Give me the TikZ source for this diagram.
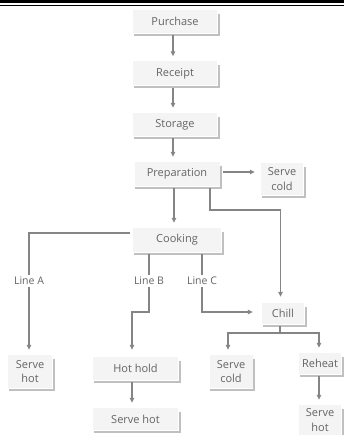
\documentclass[tikz,border=0pt]{standalone}
\usepackage{fontspec}
\setmainfont{Open Sans}
\usetikzlibrary{arrows.meta}
\definecolor{txt}{HTML}{646464}
\definecolor{ln}{HTML}{858585}
\definecolor{bx}{HTML}{F4F4F4}
\definecolor{sh}{HTML}{C0C0C0}
\begin{document}
\begin{tikzpicture}[x=1pt,y=-1pt,
  box/.style={fill=bx, draw=none, text=txt, inner sep=0pt, align=center,
    font=\fontsize{11}{14.5}\selectfont},
  lbl/.style={fill=white, text=txt, inner sep=1.5pt, font=\fontsize{10.5}{12}\selectfont},
  conn/.style={draw=ln, line width=1.3pt},
  arr/.style={conn, -{Triangle[length=5pt,width=4.5pt]}},
  shline/.style={draw=sh, line width=1.8pt}]
\useasboundingbox (0,0) rectangle (344,435);
% top rules
\fill[black] (0,0) rectangle (344,3.3);
\draw[line width=0.9pt] (0,5.3) -- (344,5.3);
% boxes
\node[box, minimum width=84pt, minimum height=23pt] (pur) at (175,21.5) {Purchase};
\node[box, minimum width=84pt, minimum height=24pt] (rec) at (175,73.5) {Receipt};
\node[box, minimum width=84pt, minimum height=23pt] (sto) at (175,124.5) {Storage};
\node[box, minimum width=85pt, minimum height=24pt] (pre) at (177,174) {Preparation};
\node[box, minimum width=42pt, minimum height=32pt] (sc1) at (282,179) {Serve\\cold};
\node[box, minimum width=88pt, minimum height=24pt] (coo) at (177,240) {Cooking};
\node[box, minimum width=42pt, minimum height=21pt] (chi) at (283,313.5) {Chill};
\node[box, minimum width=44pt, minimum height=33pt] (sh1) at (30,371.5) {Serve\\hot};
\node[box, minimum width=85pt, minimum height=23pt] (hh) at (135.5,368.5) {Hot hold};
\node[box, minimum width=85pt, minimum height=22pt] (sh2) at (135.5,419) {Serve hot};
\node[box, minimum width=43pt, minimum height=33pt] (sc2) at (231,371.5) {Serve\\cold};
\node[box, minimum width=42pt, minimum height=21pt] (reh) at (320,363.5) {Reheat};
\node[box, minimum width=42pt, minimum height=30pt] (sh3) at (320,420) {Serve\\hot};
% shadows
\foreach \n in {pur,rec,sto,pre,sc1,coo,chi,sh1,hh,sh2,sc2,reh,sh3}
  \draw[shline] ([xshift=1.5pt,yshift=-4pt]\n.north east) -- ([xshift=1.5pt,yshift=-1.5pt]\n.south east) -- ([xshift=1pt,yshift=-1.5pt]\n.south west);
% labels
\node[lbl] (la) at (29,281) {Line A};
\node[lbl] (lb) at (149,281) {Line B};
\node[lbl] (lc) at (202,281) {Line C};
% bend points
\coordinate (bB) at (149,312);
\coordinate (cj) at (280,333);
\coordinate (pj) at (210,210);
\coordinate (pe) at ([yshift=2pt]pre.east);
% connectors
\draw[arr, shorten <=2pt, shorten >=5pt] ([xshift=-2pt]pur.south) -- ([xshift=-2pt]rec.north);
\draw[arr, shorten <=2pt, shorten >=5pt] ([xshift=-2pt]rec.south) -- ([xshift=-2pt]sto.north);
\draw[arr, shorten <=2pt, shorten >=5pt] ([xshift=-2pt]sto.south) -- ([xshift=-4pt]pre.north);
\draw[arr, shorten <=3.5pt, shorten >=6pt] (pe) -- (pe -| sc1.west);
\draw[arr, shorten <=2pt, shorten >=5pt] ([xshift=-3pt]pre.south) -- ([xshift=-3pt]coo.north);
\draw[arr, shorten <=2pt, shorten >=6pt] ([xshift=33pt]pre.south) -- (pj) -| ([xshift=-2.5pt]chi.north);
\draw[conn, shorten <=3pt] ([yshift=7pt]coo.west) -| (la.north);
\draw[arr, shorten >=5pt] (la.south) -- ([xshift=-1pt]sh1.north);
\draw[conn, shorten <=2pt] ([xshift=-28pt]coo.south) -- (lb.north);
\draw[arr, shorten >=7pt] (lb.south) -- (bB) -| ([xshift=-3.5pt]hh.north);
\draw[conn, shorten <=2pt] ([xshift=25pt]coo.south) -- (lc.north);
\draw[arr, shorten >=9pt] (lc.south) |- ([yshift=1.5pt]chi.west);
\draw[conn, shorten <=2pt] ([xshift=-3pt]chi.south) -- (cj);
\draw[arr, shorten >=5pt] (cj) -| ([xshift=-3pt]sc2.north);
\draw[arr, shorten >=5pt] (cj) -| ([xshift=-1pt]reh.north);
\draw[arr, shorten <=2pt, shorten >=5pt] ([xshift=-3.5pt]hh.south) -- ([xshift=-3.5pt]sh2.north);
\draw[arr, shorten <=2pt, shorten >=5pt] ([xshift=-1pt]reh.south) -- ([xshift=-1pt]sh3.north);
\end{tikzpicture}
\end{document}
